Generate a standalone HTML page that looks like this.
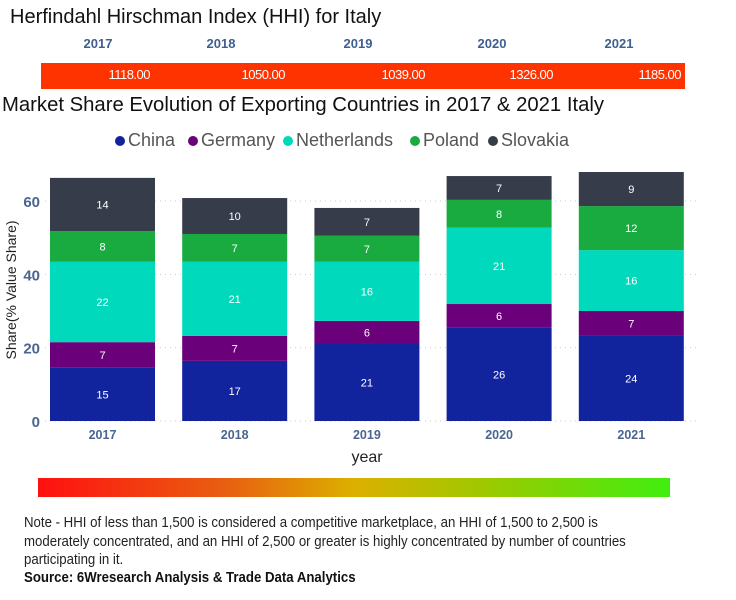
<!DOCTYPE html>
<html><head><meta charset="utf-8"><style>
body{margin:0;width:736px;height:600px;background:#fff;font-family:"Liberation Sans",sans-serif;position:relative;overflow:hidden}
.a{position:absolute;white-space:nowrap}
.cond{transform-origin:0 0;transform:scaleX(0.9)}
</style></head><body>
<div class="a" style="left:10px;top:6px;font-size:20px;color:#111">Herfindahl Hirschman Index (HHI) for Italy</div>
<div id="hhiYears"></div>
<div class="a" style="left:41px;top:63px;width:644px;height:26px;background:#ff3300"></div>
<div id="hhiVals"></div>
<div class="a" style="left:2px;top:94px;font-size:20.3px;color:#111">Market Share Evolution of Exporting Countries in 2017 &amp; 2021 Italy</div>
<div id="legend"></div>
<svg class="a" style="left:0;top:150px" width="736" height="320" id="chart"></svg>
<div class="a" style="left:38px;top:478px;width:632px;height:19px;background:linear-gradient(90deg,#ff1010,#e86010 30%,#dcb000 50%,#a0c800 70%,#40ee10)"></div>
<div class="a cond" style="left:24px;top:514px;font-size:14.7px;line-height:18.5px;color:#222">Note - HHI of less than 1,500 is considered a competitive marketplace, an HHI of 1,500 to 2,500 is<br>moderately concentrated, and an HHI of 2,500 or greater is highly concentrated by number of countries<br>participating in it.</div>
<div class="a cond" style="left:24px;top:570px;font-size:14.7px;font-weight:bold;color:#111">Source: 6Wresearch Analysis &amp; Trade Data Analytics</div>
<script>
const years=["2017","2018","2019","2020","2021"];
const hhi=["1118.00","1050.00","1039.00","1326.00","1185.00"];
const seriesNames=["China","Germany","Netherlands","Poland","Slovakia"];
const china=[14.5,16.4,21,25.4,23.2];
const germany=[7,6.8,6.3,6.5,6.8];
const netherlands=[21.9,20.2,16.1,20.8,16.6];
const poland=[8.4,7.6,7.1,7.6,12];
const slovakia=[14.5,9.8,7.6,6.5,9.3];
const labels=[[15,7,22,8,14],[17,7,21,7,10],[21,6,16,7,7],[26,6,21,8,7],[24,7,16,12,9]];
const yTicks=[0,20,40,60];
const colors=["#12239e","#6b007b","#01d9bc","#1aab40","#363c4a"];
const series=[china,germany,netherlands,poland,slovakia];

const hy=document.getElementById('hhiYears');
years.forEach((y,i)=>{const d=document.createElement('div');d.className='a';


d.style.cssText=`left:${[98,221,358,492,619][i]-30}px;width:60px;text-align:center;top:36px;font-size:13px;font-weight:bold;color:#3f5f8f`;d.textContent=y;hy.appendChild(d);});
const hv=document.getElementById('hhiVals');
hhi.forEach((v,i)=>{const d=document.createElement('div');d.className='a';


d.style.cssText=`left:${[150,285,425,553,681][i]-80}px;width:80px;text-align:right;top:67px;font-size:13px;color:#fff;letter-spacing:-0.5px`;d.textContent=v;hv.appendChild(d);});
const lg=document.getElementById('legend');
const lxs=[115,188,283,410,488];
seriesNames.forEach((n,i)=>{const d=document.createElement('div');d.className='a';


d.style.cssText=`left:${lxs[i]}px;top:130px;font-size:18px;color:#555`;
d.innerHTML=`<span style="display:inline-block;width:10px;height:10px;border-radius:50%;background:${colors[i]};margin-right:3px"></span>${n}`;lg.appendChild(d);});

const svg=document.getElementById('chart');const NS='http://www.w3.org/2000/svg';
const y0=271,ppu=3.667;const Y=v=>y0-v*ppu;
const bx=i=>50+i*132.2,bw=105;
function el(t,a,name,txt){const e=document.createElementNS(NS,t);for(const k in a)e.setAttribute(k,a[k]);


if(txt!==undefined)e.textContent=txt;svg.appendChild(e);return e;}
yTicks.forEach(t=>{el('line',{x1:45,x2:700,y1:Y(t),y2:Y(t),stroke:'#ccc','stroke-dasharray':'1 4'},'gridline-'+t);
el('text',{x:40,y:Y(t)+6,'text-anchor':'end','font-size':15,'font-weight':'bold',fill:'#4a6590'},'y-tick-'+t,t);});
years.forEach((yr,i)=>{let base=0;series.forEach((s,j)=>{const v=s[i];
el('rect',{x:bx(i),y:Y(base+v),width:bw,height:v*ppu,fill:colors[j]},'bar-'+seriesNames[j].toLowerCase()+'-'+yr);
el('text',{x:bx(i)+bw/2,y:Y(base+v/2)+4,'text-anchor':'middle','font-size':11,fill:'#fff'},'bar-label-'+seriesNames[j].toLowerCase()+'-'+yr,labels[i][j]);
base+=v;});
el('text',{x:bx(i)+bw/2,y:Y(0)+18,'text-anchor':'middle','font-size':12.5,'font-weight':'bold',fill:'#4a6590'},'x-tick-'+yr,yr);});
el('text',{x:367,y:Y(0)+41,'text-anchor':'middle','font-size':16,fill:'#222'},'x-axis-title','year');
el('text',{x:16,y:140,'text-anchor':'middle','font-size':14,fill:'#222',transform:'rotate(-90 16 140)'},'y-axis-title','Share(% Value Share)');
</script>
</body></html>
